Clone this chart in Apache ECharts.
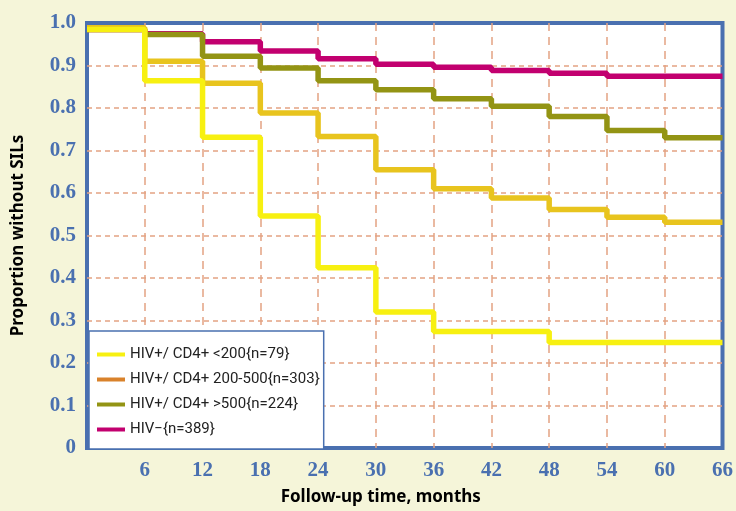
<!DOCTYPE html>
<html>
<head>
<meta charset="utf-8">
<script src="https://cdn.jsdelivr.net/npm/echarts@6/dist/echarts.min.js"></script>
<style>
  html, body { margin: 0; padding: 0; background: #f5f5d9; }
  #main { width: 736px; height: 511px; }
</style>
</head>
<body>
<div id="main"></div>
<script>
// follow-up months where each step starts
var months = [0, 6, 12, 18, 24, 30, 36, 42, 48, 54, 60, 66];

// proportion without SILs per group (Kaplan-Meier steps)
var cd4Low  = [0.985, 0.864, 0.731, 0.546, 0.424, 0.320, 0.274, 0.274, 0.248, 0.248, 0.248, 0.248];
var cd4Mid  = [0.989, 0.910, 0.858, 0.788, 0.733, 0.655, 0.610, 0.588, 0.561, 0.543, 0.531, 0.531];
var cd4High = [0.985, 0.973, 0.922, 0.894, 0.864, 0.843, 0.822, 0.804, 0.780, 0.747, 0.730, 0.730];
var hivNeg  = [0.985, 0.975, 0.956, 0.934, 0.916, 0.903, 0.896, 0.888, 0.882, 0.875, 0.875, 0.875];

var names = [
  'HIV+/ CD4+ <200{n=79}',
  'HIV+/ CD4+ 200-500{n=303}',
  'HIV+/ CD4+ >500{n=224}',
  'HIV\u2212{n=389}'
];
var lineColors = ['#f7f011', '#e8c41e', '#939414', '#c2006f'];
var legendColors = ['#f7f011', '#d9822b', '#939414', '#c2006f'];

function pairs(vals) {
  return months.map(function (m, i) { return [m, vals[i]]; });
}

var groups = [cd4Low, cd4Mid, cd4High, hivNeg];

// draw HIV- first so the yellow curve ends up on top
var series = [];
for (var i = groups.length - 1; i >= 0; i--) {
  series.push({
    name: names[i],
    type: 'line',
    step: 'end',
    showSymbol: false,
    data: pairs(groups[i]),
    lineStyle: { color: lineColors[i], width: 5.5 },
    itemStyle: { color: lineColors[i] }
  });
}

var blue = '#4a70b0';
var labelFont = { fontFamily: 'Liberation Serif', fontWeight: 'bold', fontSize: 21, color: blue };

var chart = echarts.init(document.getElementById('main'));
chart.setOption({
  backgroundColor: '#f5f5d9',
  animation: false,
  grid: {
    left: 87, right: 12, top: 23, bottom: 62,
    show: true, backgroundColor: '#ffffff', borderColor: blue, borderWidth: 4
  },
  legend: {
    orient: 'vertical',
    left: 89, top: 331,
    padding: [16, 4, 12, 8],
    itemWidth: 28, itemHeight: 4, itemGap: 10,
    icon: 'rect',
    backgroundColor: '#ffffff',
    borderColor: blue, borderWidth: 1.5,
    textStyle: { fontFamily: 'Roboto', fontSize: 15, color: '#222' },
    data: names.map(function (n, i) {
      return { name: n, itemStyle: { color: legendColors[i] } };
    })
  },
  xAxis: {
    type: 'value', min: 0, max: 66, interval: 6,
    name: 'Follow-up time, months',
    nameLocation: 'middle', nameGap: 41,
    nameTextStyle: { fontFamily: 'Noto Sans', fontWeight: 'bold', fontSize: 17, color: '#000', padding: [0, 48, 0, 0] },
    axisLine: { show: false }, axisTick: { show: false },
    axisLabel: Object.assign({ margin: 12, showMinLabel: false }, labelFont),
    splitLine: {
      show: true, showMinLine: false, showMaxLine: false,
      lineStyle: { color: '#e3a282', width: 1.5, type: [8, 6] }
    }
  },
  yAxis: {
    type: 'value', min: 0, max: 1, interval: 0.1,
    name: 'Proportion without SILs',
    nameLocation: 'middle', nameGap: 60,
    nameTextStyle: { fontFamily: 'Noto Sans', fontWeight: 'bold', fontSize: 17, color: '#000' },
    axisLine: { show: false }, axisTick: { show: false },
    axisLabel: Object.assign({
      margin: 11,
      formatter: function (v) { return v === 0 ? '0' : v.toFixed(1); }
    }, labelFont),
    splitLine: {
      show: true, showMinLine: false, showMaxLine: false,
      lineStyle: { color: '#e3a282', width: 1.5, type: [5, 4] }
    }
  },
  series: series
});
</script>
</body>
</html>
